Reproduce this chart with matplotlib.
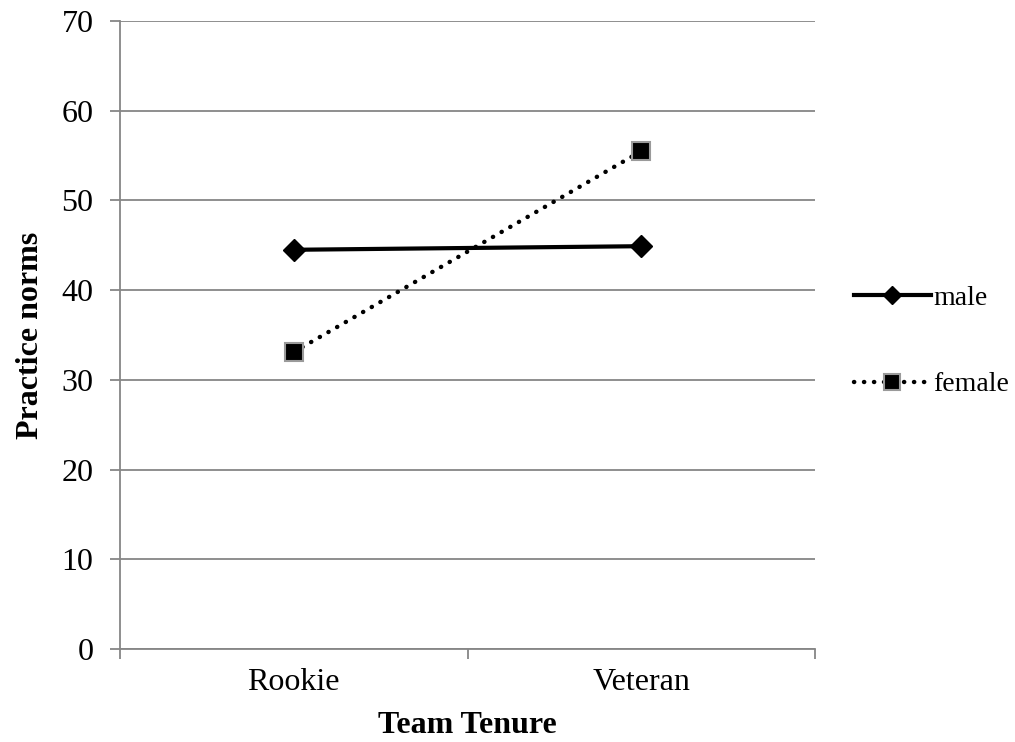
import numpy as np
import matplotlib.pyplot as plt

plt.rcParams['font.family'] = ['Liberation Serif', 'DejaVu Serif']

tenure = ["Rookie", "Veteran"]
male = [44.5, 44.9]
female = [33.1, 55.5]
yticks = [0, 10, 20, 30, 40, 50, 60, 70]

fig = plt.figure(figsize=(10.15, 7.42), dpi=100)
ax = fig.add_axes([0.1182, 0.1253, 0.685, 0.8464])

# categories sit in the middle of equal bins
x = np.arange(len(tenure)) + 0.5

ax.plot(x, male, color="black", lw=3, marker="D", markersize=11,
        markerfacecolor="black", markeredgecolor="black", label="male", zorder=3)
ax.plot(x, female, color="black", lw=3.2, linestyle=(0, (0.05, 2.2)),
        dash_capstyle="round", marker="s", markersize=13,
        markerfacecolor="black", markeredgecolor="#9a9a9a", markeredgewidth=1.5,
        label="female", zorder=3)

ax.set_xlim(0, len(tenure))
ax.set_ylim(0, 70)
ax.set_yticks(yticks)
ax.set_xticks(x)
ax.set_xticklabels(tenure)
ax.set_xticks([0, 1, 2], minor=True)
ax.yaxis.grid(True, color="#868686", lw=1.3)
ax.set_axisbelow(True)

for s in ["top", "right"]:
    ax.spines[s].set_visible(False)
for s in ["left", "bottom"]:
    ax.spines[s].set_color("#868686")
    ax.spines[s].set_linewidth(1.3)

ax.tick_params(axis="y", length=7, width=1.3, color="#868686", labelsize=23, pad=12)
ax.tick_params(axis="x", which="major", length=0, labelsize=23, pad=14)
ax.tick_params(axis="x", which="minor", length=7, width=1.3, color="#868686")

ax.set_xlabel("Team Tenure", fontsize=23, fontweight="bold", labelpad=10)
ax.set_ylabel("Practice norms", fontsize=23, fontweight="bold", labelpad=12)

ax.legend(loc="center left", bbox_to_anchor=(1.04, 0.49), frameon=False,
          fontsize=20, handlelength=2.75, handletextpad=0.1, labelspacing=2.2,
          borderaxespad=0, markerscale=0.85)

fig.savefig("out.png", dpi=100)
